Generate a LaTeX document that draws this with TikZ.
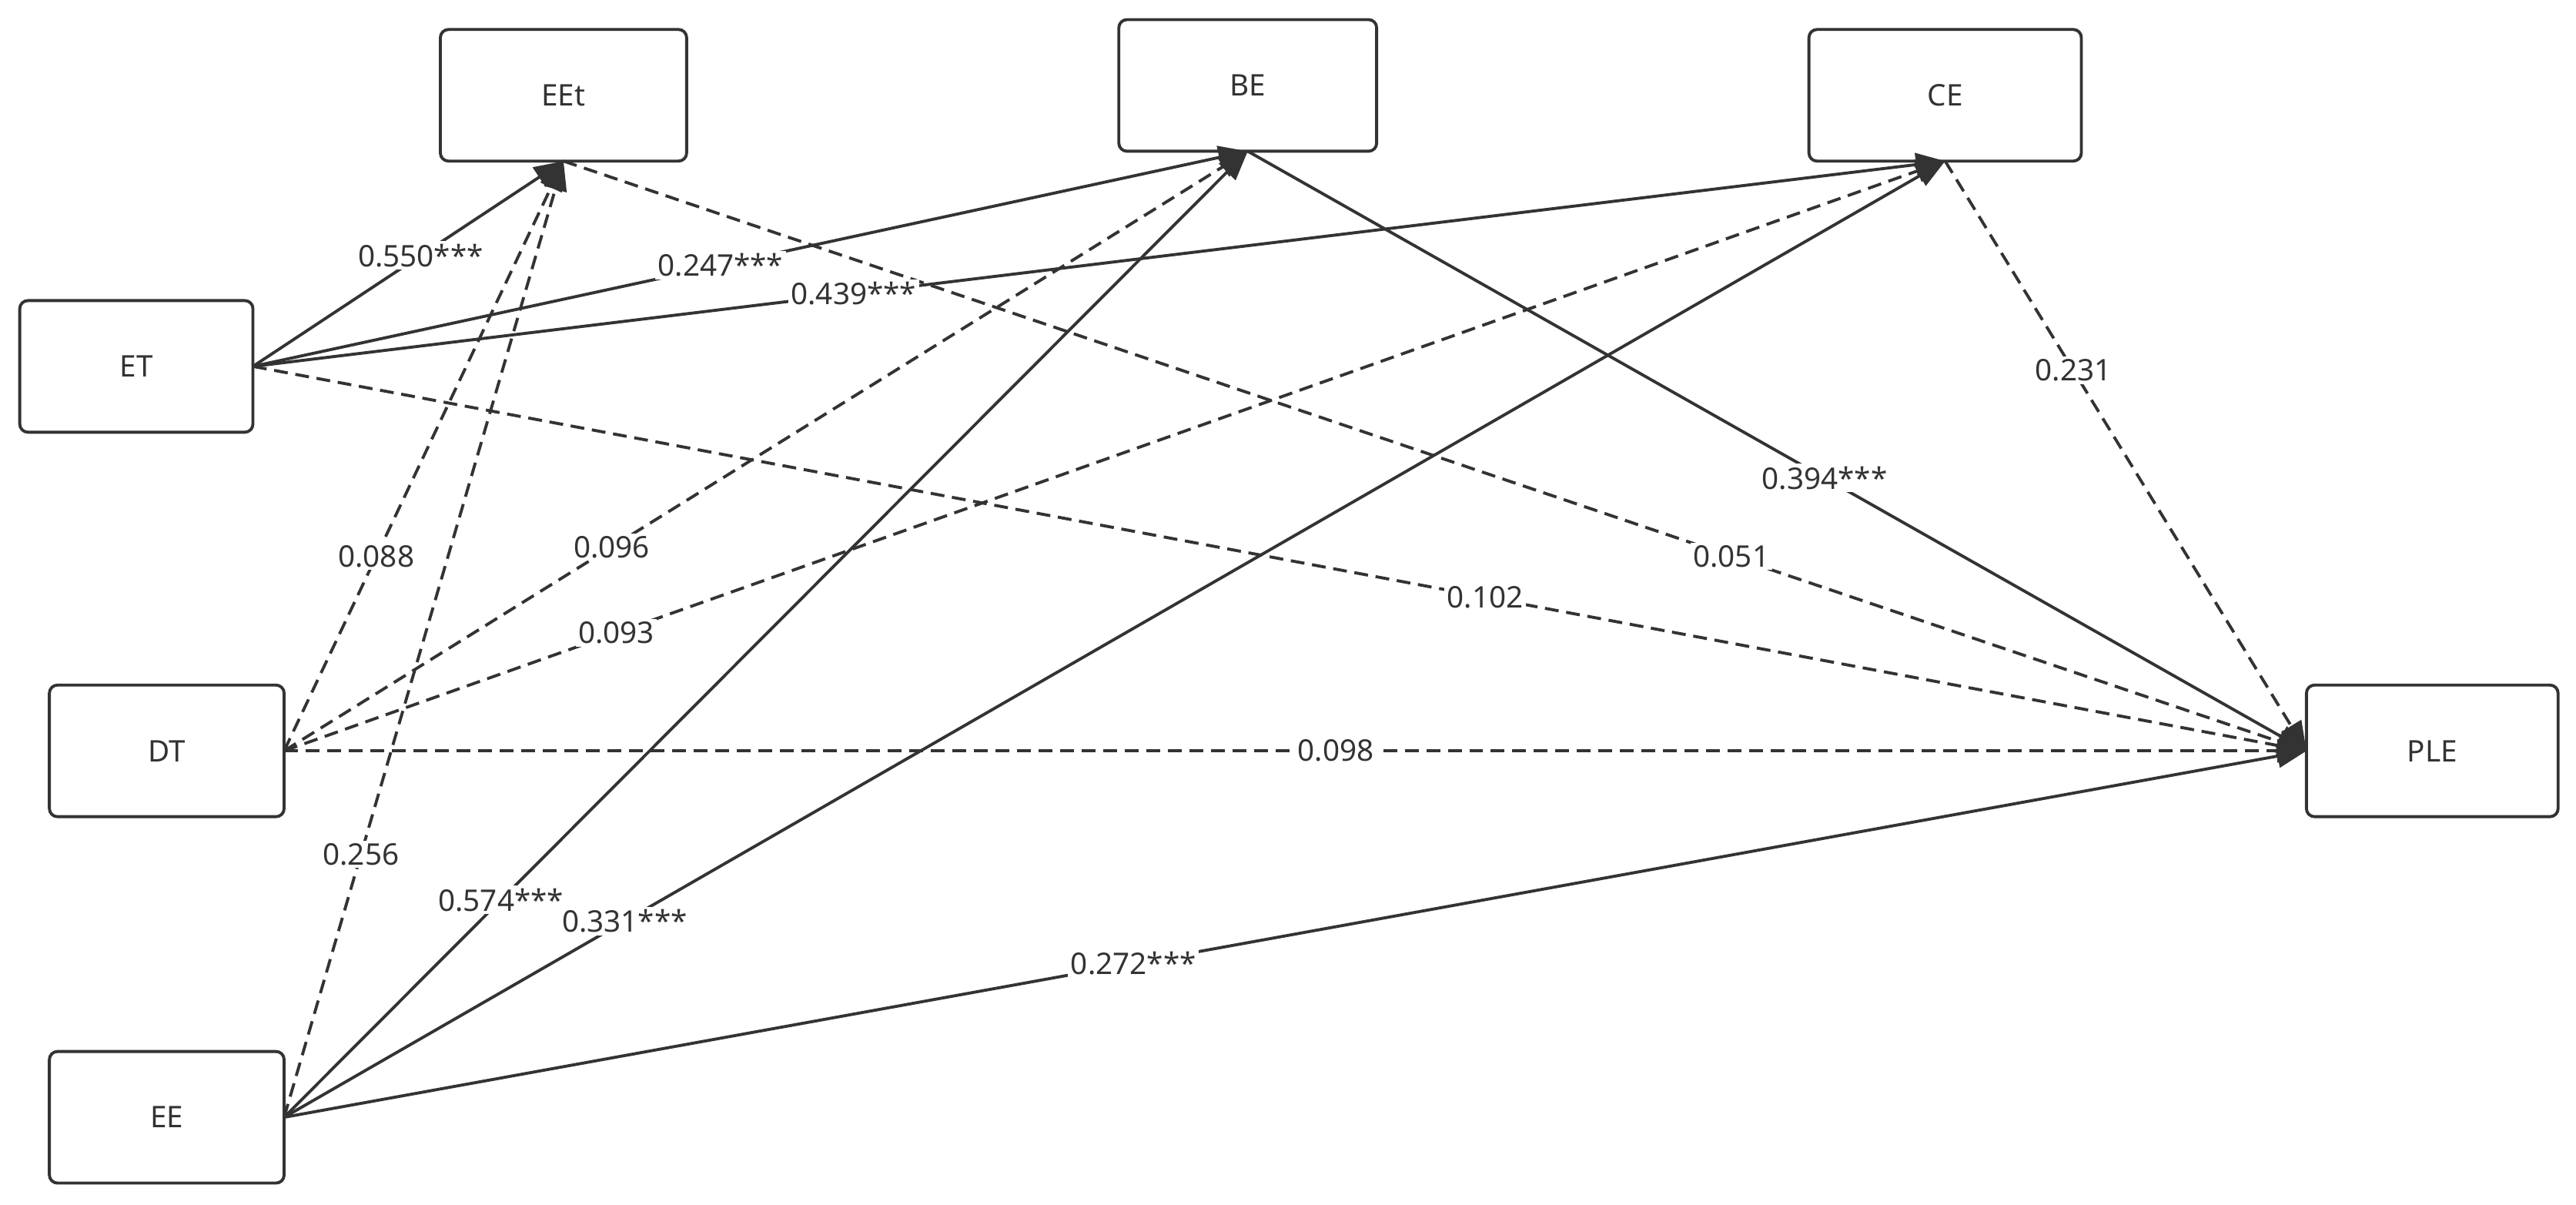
\documentclass[tikz,border=0pt]{standalone}
\usepackage{fontspec}
\setmainfont{Noto Sans}
\usetikzlibrary{arrows.meta}
\definecolor{ln}{HTML}{333333}
\begin{document}
\begin{tikzpicture}[x=0.02134cm,y=-0.02134cm,
 box/.style={draw=ln,line width=1.1pt,rounded corners=3pt,minimum height=1.71cm,outer sep=0pt,font=\fontsize{11}{13}\selectfont,text=ln,fill=white},
 ar/.style={draw=ln,line width=1.1pt,-{Triangle[length=0.38cm,width=0.3cm]}},
 da/.style={ar,dash pattern=on 0.18cm off 0.1cm},
 lb/.style={fill=white,inner sep=1pt,text=ln,font=\fontsize{11}{13}\selectfont}]
\useasboundingbox (0,0) rectangle (1568,733);
\node[box,minimum width=3.20cm] (EEt) at (343,58) {EEt};
\node[box,minimum width=3.35cm] (BE) at (759.5,52) {BE};
\node[box,minimum width=3.54cm] (CE) at (1184,58) {CE};
\node[box,minimum width=3.03cm] (ET) at (83,223) {ET};
\node[box,minimum width=3.05cm] (DT) at (101.5,457) {DT};
\node[box,minimum width=3.05cm] (EE) at (101.5,680) {EE};
\node[box,minimum width=3.27cm] (PLE) at (1480.5,457) {PLE};
\draw[da] (ET.east) -- node[lb,pos=0.60]{0.102} (PLE.west);
\draw[da] (DT.east) -- node[lb,pos=0.52]{0.098} (PLE.west);
\draw[da] (EEt.south) -- node[lb,pos=0.67]{0.051} (PLE.west);
\draw[ar] (BE.south) -- node[lb,pos=0.545]{0.394***} (PLE.west);
\draw[da] (CE.south) -- node[lb,pos=0.355]{0.231} (PLE.west);
\draw[ar] (EE.east) -- node[lb,pos=0.42]{0.272***} (PLE.west);
\draw[da] (DT.east) -- node[lb,pos=0.33]{0.088} (EEt.south);
\draw[da] (DT.east) -- node[lb,pos=0.34]{0.096} (BE.south);
\draw[da] (DT.east) -- node[lb,pos=0.2]{0.093} (CE.south);
\draw[da] (EE.east) -- node[lb,pos=0.275]{0.256} (EEt.south);
\draw[ar] (EE.east) -- node[lb,pos=0.225]{0.574***} (BE.south);
\draw[ar] (EE.east) -- node[lb,pos=0.205]{0.331***} (CE.south);
\draw[ar] (ET.east) -- node[lb,pos=0.54]{0.550***} (EEt.south);
\draw[ar] (ET.east) -- node[lb,pos=0.47]{0.247***} (BE.south);
\draw[ar] (ET.east) -- node[lb,pos=0.355]{0.439***} (CE.south);
\end{tikzpicture}
\end{document}
